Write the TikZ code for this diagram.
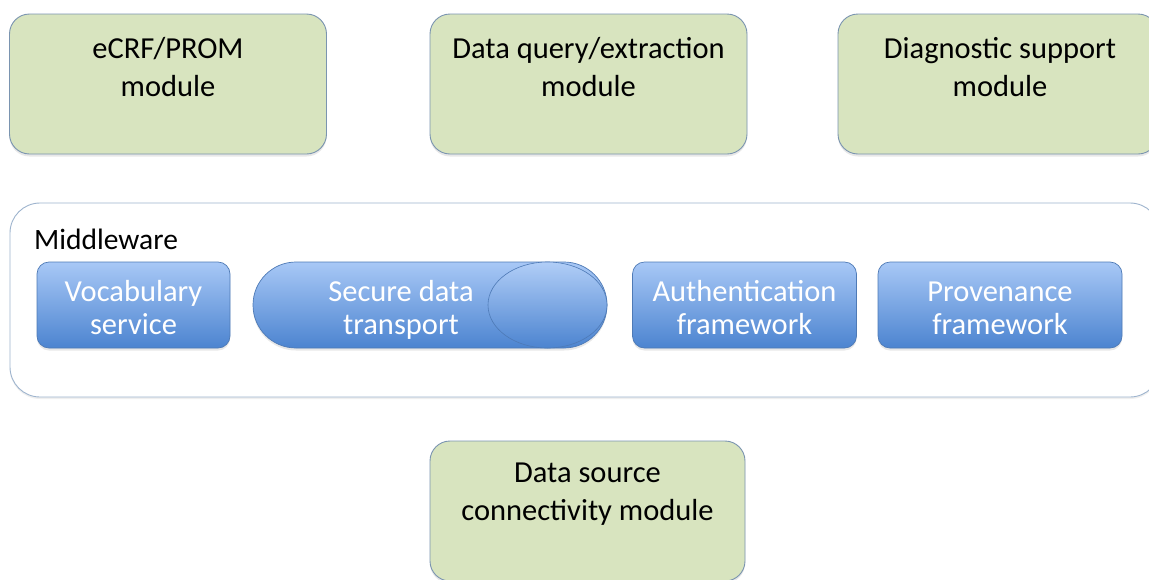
\documentclass[tikz,border=0pt]{standalone}
\usepackage{fontspec}
\setmainfont{Carlito}
\usetikzlibrary{shadows,shapes.geometric}

\definecolor{modfill}{RGB}{216,228,191}
\definecolor{modline}{RGB}{122,148,176}
\definecolor{svctop}{RGB}{168,200,246}
\definecolor{svcbot}{RGB}{76,132,208}
\definecolor{svcline}{RGB}{78,122,182}
\definecolor{mwline}{RGB}{158,180,206}

\begin{document}
\begin{tikzpicture}[x=1pt,y=-1pt,
  softshadow/.style={drop shadow={opacity=0.18, shadow xshift=0pt, shadow yshift=-2.5pt}},
  module/.style={draw=modline, line width=0.9pt, fill=modfill, rounded corners=20pt,
    minimum width=317pt, minimum height=140pt, inner sep=0pt, softshadow},
  modtext/.style={align=center, inner sep=0pt, anchor=base, font=\fontsize{30.5}{37.5}\selectfont, text=black},
  service/.style={draw=svcline, line width=0.7pt, top color=svctop, bottom color=svcbot,
    rounded corners=12pt, minimum height=86pt, inner sep=0pt, softshadow},
  svctext/.style={align=center, inner sep=0pt, anchor=base, font=\fontsize{30.5}{33}\selectfont, text=white},
  middleware/.style={draw=mwline, line width=0.9pt, fill=white, rounded corners=30pt,
    minimum width=1150pt, minimum height=194pt, inner sep=0pt,
    drop shadow={opacity=0.12, shadow xshift=0pt, shadow yshift=-2pt}}
]
\useasboundingbox (0,0) rectangle (1149,579);
\fill[white] (0,0) rectangle (1149,579);

% application modules (text nodes are placed by the baseline of their last line)
\node[module] (ecrf) at (168,84) {};
\node[modtext] (ecrf-t) at (168,96) {eCRF/PROM\\module};

\node[module] (query) at (588.5,84) {};
\node[modtext] (query-t) at (588.5,96) {Data query/extraction\\module};

\node[module, minimum width=320pt] (diag) at (998,84) {};
\node[modtext] (diag-t) at (1000,96) {Diagnostic support\\module};

% middleware layer
\node[middleware] (mw) at (585,300) {};
\node[anchor=base west, inner sep=0pt, font=\fontsize{29.5}{35}\selectfont] (mw-t) at (34,249) {Middleware};

\node[service, minimum width=193pt] (vocab) at (133.5,305) {};
\node[svctext] (vocab-t) at (133.5,334) {Vocabulary\\service};

% secure transport drawn as a horizontal cylinder
\node[service, minimum width=354pt, rounded corners=43pt] (sdt) at (430,305) {};
\node[draw=svcline, line width=0.6pt, top color=svctop!90!white, bottom color=svcbot,
  ellipse, minimum width=119pt, minimum height=86pt, inner sep=0pt] (sdt-end) at (547.5,305) {};
\node[svctext] (sdt-t) at (401,334) {Secure data\\transport};

\node[service, minimum width=224pt] (auth) at (744.5,305) {};
\node[svctext] (auth-t) at (744.5,334) {Authentication\\framework};

\node[service, minimum width=244pt] (prov) at (1000,305) {};
\node[svctext] (prov-t) at (1000,334) {Provenance\\framework};

% data source module
\node[module, minimum width=315pt] (src) at (587.5,511) {};
\node[modtext] (src-t) at (587.5,520) {Data source\\connectivity module};
\end{tikzpicture}
\end{document}
